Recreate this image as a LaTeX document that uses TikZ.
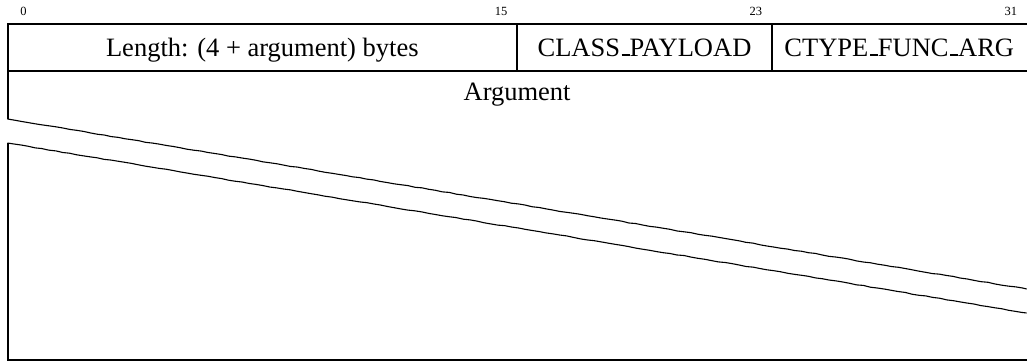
\documentclass[tikz,border=0pt]{standalone}
\usepackage{fontspec}
\setmainfont{Liberation Serif}
\usetikzlibrary{calc, decorations.pathmorphing}

% underscore as a short rule on the baseline
\newcommand\usc{\kern.06em\rule{.3em}{.06em}}

\tikzset{
  rowline/.style={line width=2pt},
  skipline/.style={line width=1.1pt, decorate,
    decoration={random steps, segment length=7pt, amplitude=.35pt}},
  field/.style={anchor=base, font=\fontsize{26.5}{30}\selectfont},
  bitnum/.style={anchor=base, font=\fontsize{12.5}{14}\selectfont}
}

\begin{document}
\begin{tikzpicture}[x=1pt,y=-1pt]
\pgfmathsetseed{11}
\useasboundingbox (0,0) rectangle (1027,362);
% One bit is \bw wide, word starts at \xo
\def\bw{31.85}
\def\xo{7.5}
% Corners of the header word
\coordinate (a) at (\xo,24);
\coordinate (b) at (\xo+32*\bw,24);
\coordinate (c) at (\xo,71);
\coordinate (d) at (\xo+32*\bw,71);
% Ends of the two slanted skip lines
\coordinate (e) at (\xo,119);
\coordinate (f) at (\xo+32*\bw,289);
\coordinate (g) at (\xo,143);
\coordinate (h) at (\xo+32*\bw,313);
% Bottom of the argument block
\coordinate (i) at (\xo,360);
\coordinate (j) at (\xo+32*\bw,360);
% Field borders at bit 16 and bit 24
\coordinate (p) at (\xo+16*\bw,24);
\coordinate (q) at (\xo+16*\bw,71);
\coordinate (r) at (\xo+24*\bw,24);
\coordinate (s) at (\xo+24*\bw,71);
% Bit numbers over the word
\foreach \n in {0,15,23,31}
  \node[bitnum] (bit\n) at (\xo+\n*\bw+.5*\bw,15.5) {\n};
% Header word and upper part of the argument
\draw[rowline] (b) -- (a) -- (e);
\draw[rowline] (c) -- (d);
\draw[rowline] (p) -- (q);
\draw[rowline] (r) -- (s);
% Skipped words
\draw[skipline] (e) -- (f);
\draw[skipline] (g) -- (h);
% Lower part of the argument
\draw[rowline] (g) -- (i) -- (j);
% Field names, all on one baseline
\node[field] (len) at ($ (a)!.5!(p) + (0,32) $) {Length: (4 + argument) bytes};
\node[field] (cls) at ($ (p)!.5!(r) + (0,32) $) {CLASS\usc PAYLOAD};
\node[field] (ctype) at ($ (r)!.5!(b) + (0,32) $) {CTYPE\usc FUNC\usc ARG};
\node[field] (arg) at ($ (c)!.5!(d) + (0,29.5) $) {Argument};
\end{tikzpicture}
\end{document}
